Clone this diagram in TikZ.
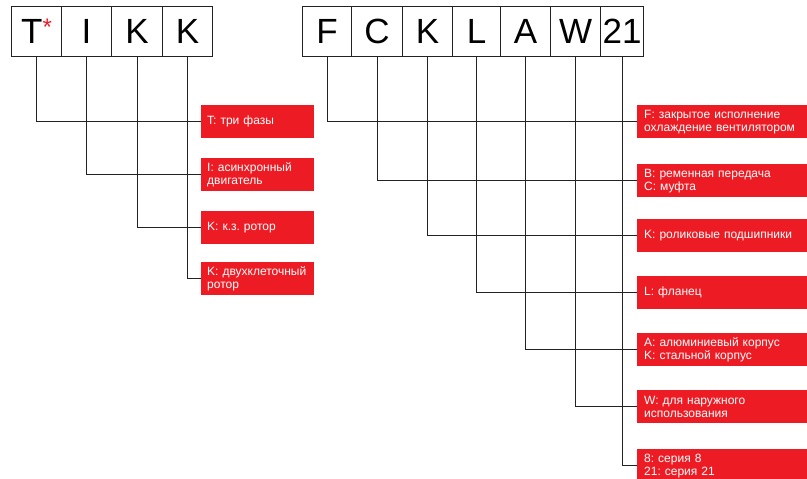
\documentclass[tikz,border=0pt]{standalone}
\usepackage{fontspec}
\setmainfont{Liberation Sans}
\frenchspacing
\definecolor{boxred}{HTML}{ED1C24}
\definecolor{linegray}{HTML}{222222}
\begin{document}
\begin{tikzpicture}[x=1pt,y=-1pt,
  letter/.style={draw=linegray,line width=1.2pt,minimum height=50pt,inner sep=0pt,anchor=north west,font=\fontsize{35}{38}\selectfont},
  info/.style={fill=boxred,text=white,anchor=north west,align=left,inner xsep=7pt,inner ysep=0pt,font=\fontsize{12}{13}\selectfont},
  infoL/.style={info,inner xsep=6pt,text width=101pt,minimum height=33pt},
  infoR/.style={info,text width=156pt,minimum height=33pt},
  conn/.style={draw=linegray,line width=1.2pt}]
\useasboundingbox (0,0) rectangle (807,479);
% left code boxes
\node[letter,minimum width=50pt] (t) at (11,5.5) {T\textcolor{boxred}{\raisebox{8pt}{\fontsize{24}{24}\selectfont*}}};
\node[letter,minimum width=50pt] (i) at (61,5.5) {I};
\node[letter,minimum width=51pt] (k1) at (111,5.5) {K};
\node[letter,minimum width=50pt] (k2) at (162,5.5) {K};
% right code boxes
\node[letter,minimum width=49pt] (f) at (302,5.5) {F};
\node[letter,minimum width=51pt] (c) at (351,5.5) {C};
\node[letter,minimum width=50pt] (k3) at (402,5.5) {K};
\node[letter,minimum width=48pt] (l) at (452,5.5) {L};
\node[letter,minimum width=50pt] (a) at (500,5.5) {A};
\node[letter,minimum width=50pt] (w) at (550,5.5) {W};
\node[letter,minimum width=43pt] (n) at (600,5.5) {21};
% left info boxes
\node[infoL] (r1) at (201,105) {T: три фазы};
\node[infoL] (r2) at (201,158) {I:~асинхронный\\двигатель};
\node[infoL] (r3) at (201,211) {K: к.з. ротор};
\node[infoL] (r4) at (201,262) {K:~двухклеточный\\ротор};
% right info boxes
\node[infoR] (s1) at (637,105) {F: закрытое исполнение\\охлаждение вентилятором};
\node[infoR] (s2) at (637,164) {B: ременная передача\\C: муфта};
\node[infoR] (s3) at (637,219) {K: роликовые подшипники};
\node[infoR] (s4) at (637,276) {L: фланец};
\node[infoR] (s5) at (637,333) {A: алюминиевый корпус\\K: стальной корпус};
\node[infoR] (s6) at (637,390) {W: для наружного\\использования};
\node[infoR] (s7) at (637,449) {8: серия 8\\21: серия 21};
% connectors
\draw[conn] (t.south) |- (r1.west);
\draw[conn] (i.south) |- (r2.west);
\draw[conn] (k1.south) |- (r3.west);
\draw[conn] (k2.south) |- (r4.west);
\draw[conn] (f.south) |- (s1.west);
\draw[conn] (c.south) |- (s2.west);
\draw[conn] (k3.south) |- (s3.west);
\draw[conn] (l.south) |- (s4.west);
\draw[conn] (a.south) |- (s5.west);
\draw[conn] (w.south) |- (s6.west);
\draw[conn] (n.south) |- (s7.west);
\end{tikzpicture}
\end{document}
